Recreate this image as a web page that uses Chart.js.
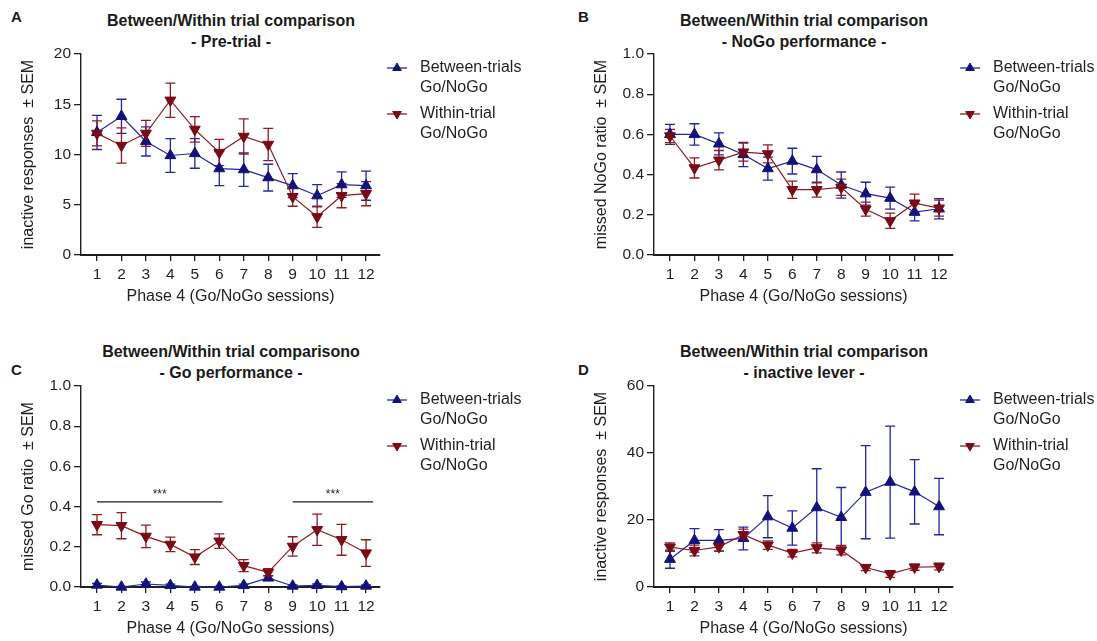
<!DOCTYPE html>
<html lang="en">
<head>
<meta charset="UTF-8">
<title>Between/Within trial comparison</title>
<script src="https://cdn.jsdelivr.net/npm/chart.js"></script>
<style>
  body { margin: 0; background: #fff; font-family: "Liberation Sans", Arial, sans-serif; color: #1a1a1a; }
  #page { position: relative; width: 1097px; height: 641px; overflow: hidden; }
  canvas { position: absolute; }
  .title { position: absolute; width: 400px; text-align: center; font-weight: bold; font-size: 16px; line-height: 21px; }
  .letter { position: absolute; font-weight: bold; font-size: 15px; line-height: 16px; }
</style>
</head>
<body>
<div id="page">
  <div class="letter" style="left:11px; top:9px;">A</div>
  <div class="letter" style="left:578px; top:9px;">B</div>
  <div class="letter" style="left:11px; top:362px;">C</div>
  <div class="letter" style="left:578px; top:362px;">D</div>

  <div class="title" style="left:31px; top:10px;">Between/Within trial comparison<br>- Pre-trial -</div>
  <div class="title" style="left:604px; top:10px;">Between/Within trial comparison<br>- NoGo performance -</div>
  <div class="title" style="left:31px; top:341px;">Between/Within trial comparisono<br>- Go performance -</div>
  <div class="title" style="left:604px; top:341px;">Between/Within trial comparison<br>- inactive lever -</div>

  <canvas id="chartA" width="524" height="309" style="left:0; top:0;"></canvas>
  <canvas id="chartB" width="524" height="309" style="left:573px; top:0;"></canvas>
  <canvas id="chartC" width="524" height="309" style="left:0; top:332px;"></canvas>
  <canvas id="chartD" width="524" height="309" style="left:573px; top:332px;"></canvas>
</div>

<script>
// sessions on the x axis
const sessions = [1, 2, 3, 4, 5, 6, 7, 8, 9, 10, 11, 12];
const seriesNames = ['Between-trials', 'Within-trial'];

// A - pre-trial inactive responses
const preBetween    = [12.2, 13.8, 11.3, 9.9, 10.1, 8.6, 8.5, 7.7, 6.9, 5.9, 7.0, 6.9];
const preBetweenSem = [1.7, 1.7, 1.45, 1.67, 1.47, 1.7, 1.67, 1.33, 1.2, 1.1, 1.27, 1.45];
const preWithin     = [12.1, 10.9, 12.1, 15.4, 12.5, 10.2, 11.8, 11.0, 5.8, 3.8, 5.9, 6.1];
const preWithinSem  = [1.25, 1.75, 1.3, 1.7, 1.27, 1.3, 1.75, 1.6, 0.95, 1.05, 1.2, 1.2];

// B - missed NoGo ratio
const nogoBetween    = [0.60, 0.60, 0.553, 0.50, 0.43, 0.467, 0.425, 0.348, 0.305, 0.283, 0.213, 0.23];
const nogoBetweenSem = [0.05, 0.053, 0.055, 0.06, 0.057, 0.064, 0.066, 0.065, 0.057, 0.055, 0.043, 0.05];
const nogoWithin     = [0.592, 0.433, 0.472, 0.512, 0.503, 0.325, 0.325, 0.337, 0.228, 0.17, 0.258, 0.233];
const nogoWithinSem  = [0.033, 0.05, 0.048, 0.045, 0.045, 0.043, 0.037, 0.04, 0.035, 0.038, 0.045, 0.04];

// C - missed Go ratio
const goBetween    = [0.01, 0.0, 0.015, 0.008, 0.0, 0.0, 0.008, 0.045, 0.005, 0.008, 0.002, 0.005];
const goBetweenSem = [0.008, 0.003, 0.01, 0.006, 0.003, 0.003, 0.006, 0.012, 0.005, 0.007, 0.003, 0.005];
const goWithin     = [0.31, 0.305, 0.252, 0.212, 0.149, 0.228, 0.106, 0.073, 0.202, 0.285, 0.235, 0.169];
const goWithinSem  = [0.05, 0.065, 0.056, 0.036, 0.037, 0.036, 0.03, 0.018, 0.048, 0.078, 0.077, 0.066];
const goSigSpans   = [[1, 6], [9, 12]];
const goSigLevel   = 0.424;

// D - inactive lever
const leverBetween    = [8.3, 13.9, 13.9, 14.5, 21.0, 17.6, 23.7, 20.8, 28.3, 31.3, 28.4, 24.0];
const leverBetweenSem = [2.7, 3.5, 3.2, 3.4, 6.3, 5.1, 11.6, 8.9, 13.9, 16.7, 9.6, 8.4];
const leverWithin     = [11.9, 10.9, 12.0, 15.6, 12.5, 10.1, 11.7, 11.0, 5.8, 3.9, 5.9, 6.1];
const leverWithinSem  = [1.25, 1.6, 1.3, 1.7, 1.27, 1.1, 1.5, 1.4, 0.9, 1.0, 0.9, 1.0];

const BLUE_LINE = '#2424a6';
const BLUE_FILL = '#12127a';
const RED_LINE = '#8e1b24';
const RED_FILL = '#7a0a14';
const INK = '#1f1f1f';

Chart.defaults.font.family = '"Liberation Sans", Arial, sans-serif';
Chart.defaults.color = INK;

// SEM bars drawn from the chart's own scales
const errorBars = {
  id: 'errorBars',
  beforeDatasetsDraw(chart) {
    const ctx = chart.ctx;
    const xs = chart.scales.x, ys = chart.scales.y;
    chart.data.datasets.forEach(ds => {
      ctx.save();
      ctx.strokeStyle = ds.borderColor;
      ctx.lineWidth = 1.3;
      ds.data.forEach((p, i) => {
        const e = ds.sem[i];
        const x = xs.getPixelForValue(p.x);
        const yTop = ys.getPixelForValue(p.y + e);
        const yBot = ys.getPixelForValue(p.y - e);
        ctx.beginPath();
        ctx.moveTo(x, yTop); ctx.lineTo(x, yBot);
        ctx.moveTo(x - 5, yTop); ctx.lineTo(x + 5, yTop);
        ctx.moveTo(x - 5, yBot); ctx.lineTo(x + 5, yBot);
        ctx.stroke();
      });
      ctx.restore();
    });
  }
};

// legend to the right of the plot
const sideLegend = {
  id: 'sideLegend',
  afterDraw(chart) {
    const ctx = chart.ctx;
    const a = chart.chartArea;
    const rows = [a.top + 14, a.top + 60];
    chart.data.datasets.forEach((ds, k) => {
      const y = rows[k];
      ctx.save();
      ctx.strokeStyle = ds.borderColor;
      ctx.lineWidth = 1.3;
      ctx.beginPath();
      ctx.moveTo(a.right + 7, y); ctx.lineTo(a.right + 27, y);
      ctx.stroke();
      ctx.fillStyle = ds.pointBackgroundColor;
      ctx.strokeStyle = ds.pointBackgroundColor;
      ctx.lineWidth = 1;
      Chart.helpers.drawPoint(ctx, { pointStyle: 'triangle', radius: 5, rotation: ds.pointRotation || 0, borderWidth: 1 }, a.right + 17, y);
      ctx.fillStyle = INK;
      ctx.font = '16px "Liberation Sans", Arial, sans-serif';
      ctx.textBaseline = 'middle';
      ctx.fillText(seriesNames[k], a.right + 40, y);
      ctx.fillText('Go/NoGo', a.right + 40, y + 20);
      ctx.restore();
    });
  }
};

// significance lines (panel C)
const sigLines = {
  id: 'sigLines',
  afterDraw(chart, args, opts) {
    if (!opts.spans) return;
    const ctx = chart.ctx;
    const xs = chart.scales.x, ys = chart.scales.y;
    const y = ys.getPixelForValue(opts.level);
    ctx.save();
    ctx.strokeStyle = INK;
    ctx.lineWidth = 1.2;
    ctx.fillStyle = INK;
    ctx.font = '12px "Liberation Sans", Arial, sans-serif';
    ctx.textAlign = 'center';
    ctx.textBaseline = 'bottom';
    opts.spans.forEach(([s, e], i) => {
      const x1 = xs.getPixelForValue(s);
      const x2 = xs.getPixelForValue(e) + (i === 0 ? 3 : 7);
      ctx.beginPath();
      ctx.moveTo(x1, y); ctx.lineTo(x2, y);
      ctx.stroke();
      ctx.fillText('***', (x1 + x2) / 2, y - 1);
    });
    ctx.restore();
  }
};

function series(values, sem, line, fill, inverted) {
  return {
    data: sessions.map((s, i) => ({ x: s, y: values[i] })),
    sem: sem,
    borderColor: line,
    borderWidth: 1.2,
    backgroundColor: fill,
    pointStyle: 'triangle',
    pointRotation: inverted ? 180 : 0,
    pointRadius: 6.3,
    pointBorderWidth: 1,
    pointBorderColor: fill,
    pointBackgroundColor: fill,
    order: inverted ? 0 : 1,
    clip: false,
    tension: 0
  };
}

function makeChart(id, yTitle, yMax, yStep, decimals, between, betweenSem, within, withinSem, sig) {
  return new Chart(document.getElementById(id), {
    type: 'line',
    data: {
      datasets: [
        series(between, betweenSem, BLUE_LINE, BLUE_FILL, false),
        series(within, withinSem, RED_LINE, RED_FILL, true)
      ]
    },
    options: {
      responsive: false,
      animation: false,
      events: [],
      layout: { padding: { left: 0, top: 54, right: 144, bottom: 0 } },
      plugins: {
        legend: { display: false },
        tooltip: { enabled: false },
        sigLines: sig || {}
      },
      scales: {
        x: {
          type: 'linear',
          min: 0.346,
          max: 12.57,
          afterBuildTicks: axis => { axis.ticks = sessions.map(v => ({ value: v })); },
          afterFit: axis => { axis.height = 54; },
          border: { display: true, color: INK, width: 2, dash: [2, 2] },
          grid: { drawOnChartArea: false, drawTicks: true, tickLength: 6, color: INK, lineWidth: 1.3 },
          ticks: { font: { size: 15.5 }, color: INK, padding: 4, maxRotation: 0, autoSkip: false },
          title: { display: true, text: 'Phase 4 (Go/NoGo sessions)', font: { size: 16 }, color: INK, padding: { top: 0, bottom: 3 } }
        },
        y: {
          min: 0,
          max: yMax,
          afterFit: axis => { axis.width = 81; },
          border: { display: true, color: INK, width: 1.4 },
          grid: { drawOnChartArea: false, drawTicks: true, tickLength: 7, color: INK, lineWidth: 1.3 },
          ticks: { stepSize: yStep, font: { size: 15.5 }, color: INK, padding: 3,
                   callback: v => v.toFixed(decimals) },
          title: { display: true, text: yTitle, font: { size: 16 }, color: INK, padding: { top: 19, bottom: 0 } }
        }
      }
    },
    plugins: [errorBars, sideLegend, sigLines]
  });
}

makeChart('chartA', 'inactive responses  \u00b1 SEM', 20, 5, 0, preBetween, preBetweenSem, preWithin, preWithinSem);
makeChart('chartB', 'missed NoGo ratio  \u00b1 SEM', 1, 0.2, 1, nogoBetween, nogoBetweenSem, nogoWithin, nogoWithinSem);
makeChart('chartC', 'missed Go ratio  \u00b1 SEM', 1, 0.2, 1, goBetween, goBetweenSem, goWithin, goWithinSem,
          { spans: goSigSpans, level: goSigLevel });
makeChart('chartD', 'inactive responses  \u00b1 SEM', 60, 20, 0, leverBetween, leverBetweenSem, leverWithin, leverWithinSem);
</script>
</body>
</html>
